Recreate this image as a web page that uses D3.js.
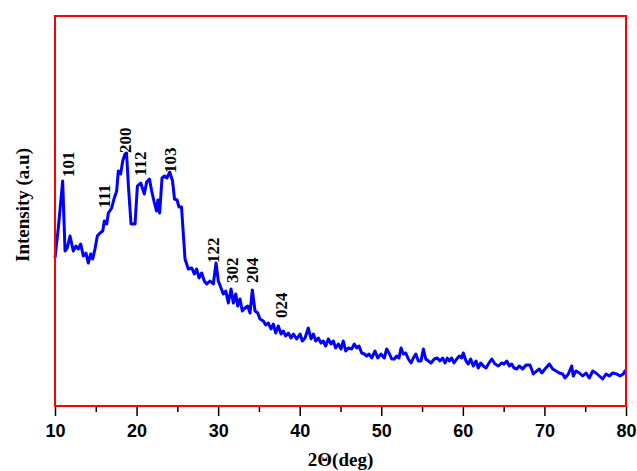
<!DOCTYPE html>
<html><head><meta charset="utf-8">
<script src="https://cdn.jsdelivr.net/npm/d3@7"></script>
<style>html,body{margin:0;padding:0;background:#fff;}</style>
</head><body>
<svg id="chart" width="637" height="471"></svg>
<script>
const twoTheta = [10.00,10.43,10.94,11.23,11.50,11.84,12.24,12.57,12.86,13.15,13.47,13.80,14.08,14.38,14.62,14.90,15.19,15.52,15.85,16.05,16.34,16.54,16.95,17.23,17.56,17.76,18.05,18.30,18.58,18.77,19.00,19.32,19.81,20.10,20.51,20.95,21.24,21.58,21.85,22.16,22.44,22.62,22.83,23.12,23.42,23.73,24.06,24.41,24.65,24.96,25.20,25.51,25.69,25.94,26.34,26.76,27.08,27.37,27.65,27.98,28.30,28.60,29.00,29.41,29.74,30.02,30.35,30.63,30.93,31.25,31.58,31.86,32.16,32.40,32.68,32.96,33.29,33.62,33.91,34.19,34.52,34.85,35.13,35.54,35.83,36.15,36.48,36.76,37.06,37.37,37.71,37.99,38.28,38.61,38.94,39.22,39.63,40.04,40.32,40.65,41.05,41.39,41.67,41.96,42.28,42.61,42.89,43.19,43.51,43.84,44.12,44.41,44.73,45.06,45.34,45.64,45.96,46.37,46.69,46.99,47.27,47.60,47.92,48.21,48.50,48.83,49.23,49.56,49.96,50.37,50.66,50.95,51.28,51.60,51.89,52.17,52.42,52.70,53.00,53.32,53.65,53.93,54.23,54.54,54.87,55.16,55.45,55.77,56.10,56.50,56.87,57.20,57.53,57.81,58.09,58.34,58.63,58.91,59.24,59.56,59.85,60.05,60.39,60.67,60.96,61.28,61.61,61.89,62.19,62.51,62.84,63.12,63.54,63.94,64.35,64.76,65.05,65.38,65.70,65.99,66.27,66.60,66.92,67.34,67.74,68.23,68.64,69.05,69.37,69.67,70.07,70.60,71.01,71.42,71.82,72.24,72.52,72.93,73.34,73.54,73.87,74.28,74.69,75.10,75.50,75.92,76.32,76.73,77.14,77.55,77.95,78.37,78.86,79.26,79.67,79.88,80.00];
const intensity = [148,180,225,155,158,170,155,160,157,162,150,153,143,152,147,157,170,173,175,185,182,193,198,207,215,235,232,245,252,253,220,182,182,220,223,212,224,227,215,204,195,206,193,228,230,228,234,225,207,206,199,199,177,147,137,138,132,137,128,133,125,122,125,122,143,125,118,112,115,103,117,103,112,100,107,95,98,100,93,116,95,93,87,85,81,83,77,82,73,80,72,75,70,73,68,72,67,72,65,68,78,67,72,65,68,63,65,60,67,62,65,58,62,57,65,55,58,57,62,58,60,53,52,50,52,48,55,48,52,48,57,53,47,47,50,48,58,52,53,47,43,48,52,45,45,57,47,45,43,47,48,45,48,43,48,45,48,43,47,50,48,53,45,42,47,40,45,38,43,40,38,42,47,42,40,43,42,45,40,42,38,37,40,37,41,41,32,35,37,33,37,42,37,35,33,32,28,32,40,30,35,33,30,33,28,35,33,30,27,32,30,33,32,30,32,35,36];

const peakLabels = ["101","111","200","112","103","122","302","204","024"];
const peakAngles = [11.6,16.0,18.6,20.4,24.1,29.4,31.7,34.15,37.7];
const peakLabelBase = [229,198,253,230,233,143,123,123,88];

const xTicks = [10,20,30,40,50,60,70,80];
const xMinorTicks = [15,25,35,45,55,65,75];

const margin = {left:55, right:11, top:16, bottom:65};
const W = 637, H = 471;
const svg = d3.select("#chart");
const x = d3.scaleLinear().domain([10,80]).range([margin.left, W - margin.right]);
const y = d3.scaleLinear().domain([0,390]).range([H - margin.bottom, margin.top]);

// minor ticks
svg.append("g").attr("transform",`translate(0,${H-margin.bottom})`)
  .call(d3.axisBottom(x).tickValues(xMinorTicks).tickSize(6).tickFormat(""))
  .call(g=>g.select(".domain").remove())
  .call(g=>g.selectAll("line").attr("stroke","#000").attr("stroke-width",1.5));
// major ticks
svg.append("g").attr("transform",`translate(0,${H-margin.bottom})`)
  .call(d3.axisBottom(x).tickValues(xTicks).tickSize(10).tickPadding(8).tickFormat(d3.format("d")))
  .call(g=>g.select(".domain").remove())
  .call(g=>g.selectAll("line").attr("stroke","#000").attr("stroke-width",1.5))
  .call(g=>g.selectAll("text").attr("fill","#000")
    .style("font-family","'Liberation Sans', Arial, sans-serif").style("font-weight","bold").style("font-size","18px"));

// data line
const pts = twoTheta.map((t,i)=>[t,intensity[i]]);
svg.append("path").datum(pts)
  .attr("fill","none").attr("stroke","#0000ff").attr("stroke-width",3).attr("stroke-linejoin","round")
  .attr("d", d3.line().x(d=>x(d[0])).y(d=>y(d[1])));

// frame
svg.append("rect").attr("x",x(10)).attr("y",y(390)).attr("width",x(80)-x(10)).attr("height",y(0)-y(390))
  .attr("fill","none").attr("stroke","#ff0000").attr("stroke-width",2);

// peak labels
svg.append("g").selectAll("text").data(peakLabels).join("text")
  .attr("transform",(d,i)=>`translate(${x(peakAngles[i])},${y(peakLabelBase[i])}) rotate(-90)`)
  .attr("dy","0.35em")
  .style("font-family","'Liberation Serif','Times New Roman',serif").style("font-weight","bold").style("font-size","17px")
  .attr("fill","#000")
  .text(d=>d);

// axis titles
svg.append("text").attr("x",(x(10)+x(80))/2).attr("y",466)
  .attr("text-anchor","middle")
  .style("font-family","'Liberation Serif','Times New Roman',serif").style("font-weight","bold").style("font-size","19px")
  .text("2Θ(deg)");
svg.append("text").attr("transform",`translate(29,${(y(0)+y(390))/2 - 6}) rotate(-90)`)
  .attr("text-anchor","middle")
  .style("font-family","'Liberation Serif','Times New Roman',serif").style("font-weight","bold").style("font-size","19px")
  .text("Intensity (a.u)");
</script>
</body></html>
